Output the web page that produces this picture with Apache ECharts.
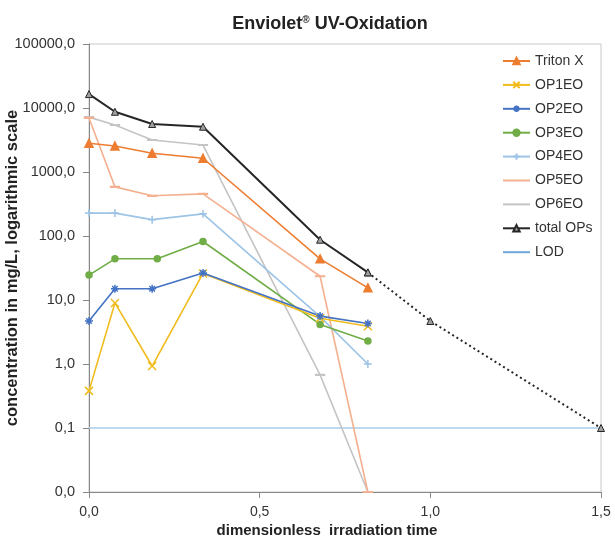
<!DOCTYPE html>
<html>
<head>
<meta charset="utf-8">
<script src="https://cdn.jsdelivr.net/npm/echarts@6/dist/echarts.min.js"></script>
<style>
  html, body { margin: 0; padding: 0; background: #fff; }
  #chart { width: 615px; height: 543px; }
</style>
</head>
<body>
<div id="chart"></div>
<script>
// irradiation times (dimensionless)
var times = [0, 0.076, 0.185, 0.334, 0.677, 0.817];
var timesOP3 = [0, 0.076, 0.2, 0.334, 0.677, 0.817];
var timesExtra = [0.817, 1.0, 1.5];

// concentrations in mg/L
var tritonX = [2810, 2550, 1960, 1640, 44, 15.5];
var op1eo = [0.38, 9.0, 0.93, 26, 5.2, 3.9];
var op2eo = [4.7, 15, 15, 26.5, 5.6, 4.3];
var op3eo = [24.5, 44, 44, 82, 4.15, 2.28];
var op4eo = [228, 228, 180, 222, 5.5, 1.0];
var op5eo = [7000, 586, 425, 456, 23.5, 0.01];
var op6eo = [7200, 5420, 3160, 2640, 0.675, 0.01];
var totalOPs = [16500, 8730, 5620, 5100, 87.5, 27];
var totalExtra = [27, 4.7, 0.1];
var lodX = [0, 1.5];
var lod = [0.1, 0.1];

function pairs(xs, ys) {
    return xs.map(function (x, i) { return [x, ys[i]]; });
}
function comma(v) {
    return v.toFixed(1).replace('.', ',');
}

var font = 'Liberation Sans, Arial, sans-serif';
var symX = 'path://M0,0L10,10M10,0L0,10';
var symStar = 'path://M0,5L10,5M5,0L5,10M1.5,1.5L8.5,8.5M8.5,1.5L1.5,8.5';
var symPlus = 'path://M0,5L10,5M5,0L5,10';

function lineSeries(name, xs, ys, color, opts) {
    var s = {
        name: name,
        type: 'line',
        data: pairs(xs, ys),
        color: color,
        lineStyle: { color: color, width: 1.6 },
        itemStyle: { color: color, borderColor: color, borderWidth: 1.5 },
        symbol: 'none',
        symbolSize: 7,
        animation: false,
        z: 3
    };
    for (var k in opts) s[k] = opts[k];
    return s;
}

var chart = echarts.init(document.getElementById('chart'));

chart.setOption({
    textStyle: { fontFamily: font },
    title: {
        text: 'Enviolet{sup|®} UV-Oxidation',
        left: 325,
        textAlign: 'center',
        top: 10,
        textStyle: {
            fontFamily: font,
            fontSize: 18,
            fontWeight: 'bold',
            color: '#222',
            rich: {
                sup: { fontSize: 10, fontWeight: 'bold', verticalAlign: 'top', padding: [0, 0, 9, 0], color: '#222' }
            }
        }
    },
    legend: {
        orient: 'vertical',
        left: 497,
        top: 49,
        itemWidth: 27,
        itemHeight: 8,
        itemGap: 9.9,
        textStyle: { fontFamily: font, fontSize: 14, color: '#333' },
        data: [
            'Triton X', 'OP1EO', 'OP2EO', 'OP3EO', 'OP4EO',
            { name: 'OP5EO', itemStyle: { opacity: 0 } },
            { name: 'OP6EO', itemStyle: { opacity: 0 } },
            'total OPs',
            { name: 'LOD', itemStyle: { opacity: 0 }, lineStyle: { color: '#6fa6d8' } }
        ]
    },
    grid: {
        left: 89, right: 14, top: 44, bottom: 51,
        containLabel: false,
        outerBoundsMode: 'none',
        show: true, borderColor: '#c8c8c8', borderWidth: 1
    },
    xAxis: {
        type: 'value',
        min: 0, max: 1.5, interval: 0.5,
        name: 'dimensionless  irradiation time',
        nameLocation: 'middle',
        nameGap: 31,
        nameMoveOverlap: false,
        nameTextStyle: { fontFamily: font, fontSize: 15, fontWeight: 'bold', color: '#222', padding: [0, 36, 0, 0] },
        axisLine: { lineStyle: { color: '#888', width: 1 } },
        axisTick: { show: true, length: 6, lineStyle: { color: '#888' } },
        axisLabel: { fontFamily: font, fontSize: 14, color: '#333', margin: 13, formatter: comma },
        splitLine: { show: false }
    },
    yAxis: {
        type: 'log',
        logBase: 10,
        min: 0.01, max: 100000,
        name: 'concentration in mg/L, logarithmic scale',
        nameLocation: 'middle',
        nameGap: 68,
        nameMoveOverlap: false,
        nameTextStyle: { fontFamily: font, fontSize: 16.5, fontWeight: 'bold', color: '#222' },
        axisLine: { show: true, lineStyle: { color: '#888', width: 1 } },
        axisTick: { show: true, length: 6, lineStyle: { color: '#888' } },
        axisLabel: { fontFamily: font, fontSize: 14.5, color: '#333', margin: 14, formatter: comma },
        splitLine: { show: false },
        minorTick: { show: false }
    },
    series: [
        lineSeries('LOD', lodX, lod, '#9dc3e6', { z: 1, lineStyle: { color: '#a9cde8', width: 1.6 } }),
        lineSeries('OP6EO', times, op6eo, '#c4c4c4', { symbol: 'rect', symbolSize: [7, 1.5] }),
        lineSeries('OP5EO', times, op5eo, '#f4b08f', { symbol: 'rect', symbolSize: [7, 1.5] }),
        lineSeries('OP4EO', times, op4eo, '#9dc3e6', { symbol: symPlus, symbolSize: 8 }),
        lineSeries('OP3EO', timesOP3, op3eo, '#70ad47', { symbol: 'circle', symbolSize: 6 }),
        lineSeries('OP1EO', times, op1eo, '#f0bc1c', { symbol: symX, symbolSize: 8 }),
        lineSeries('OP2EO', times, op2eo, '#4472c4', { symbol: symStar, symbolSize: 8 }),
        lineSeries('Triton X', times, tritonX, '#ed7d31', { symbol: 'triangle', symbolSize: 8 }),
        {
            name: 'total OPs',
            type: 'line',
            data: pairs(times, totalOPs),
            symbol: 'triangle',
            symbolSize: 7,
            color: '#262626',
            lineStyle: { color: '#262626', width: 2 },
            itemStyle: { color: '#a0a0a0', borderColor: '#262626', borderWidth: 1 },
            animation: false,
            z: 4
        },
        {
            name: 'total OPs extrapolated',
            type: 'line',
            data: pairs(timesExtra, totalExtra),
            symbol: 'triangle',
            symbolSize: 7,
            lineStyle: { color: '#262626', width: 2, type: [2, 3] },
            itemStyle: { color: '#a0a0a0', borderColor: '#262626', borderWidth: 1 },
            animation: false,
            z: 4
        }
    ]
});
</script>
</body>
</html>
